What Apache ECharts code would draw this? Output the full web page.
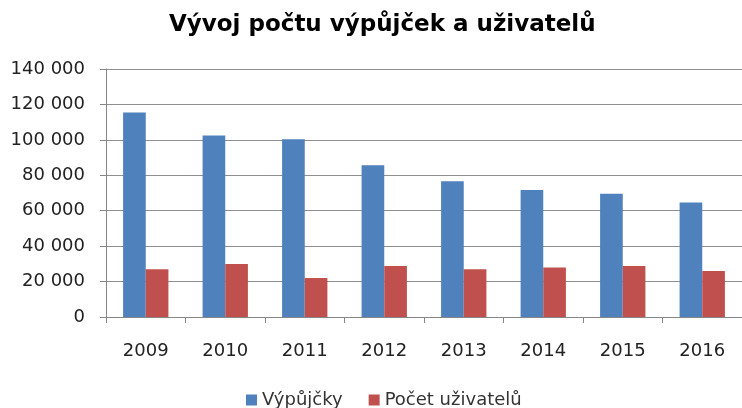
<!DOCTYPE html>
<html>
<head>
<meta charset="utf-8">
<script src="https://cdn.jsdelivr.net/npm/echarts@6/dist/echarts.min.js"></script>
<style>
  html, body { margin: 0; padding: 0; background: #fff; }
  #chart { width: 742px; height: 408px; }
</style>
</head>
<body>
<div id="chart"></div>
<script>
const years = ['2009', '2010', '2011', '2012', '2013', '2014', '2015', '2016']
const vypujcky = [115400, 102400, 100300, 85600, 76600, 71700, 69600, 64600]
const uzivatele = [26900, 29900, 22000, 28800, 26900, 27900, 28800, 26000]
const seriesNames = ['Výpůjčky', 'Počet uživatelů']

const font = 'DejaVu Sans'
const fmt = v => String(v).replace(/\B(?=(\d{3})+(?!\d))/g, ' ')

const chart = echarts.init(document.getElementById('chart'))
chart.setOption({
  animation: false,
  title: {
    text: 'Vývoj počtu výpůjček a uživatelů',
    left: 164,
    top: 9,
    textStyle: { fontFamily: font, fontSize: 23, fontWeight: 'bold', color: '#000' }
  },
  legend: {
    data: seriesNames,
    left: 241,
    top: 385,
    itemWidth: 11,
    itemHeight: 11,
    itemGap: 26,
    icon: 'rect',
    textStyle: { fontFamily: font, fontSize: 18, color: '#333', lineHeight: 20 }
  },
  grid: { left: 106, right: -7, top: 69, bottom: 91, containLabel: false },
  xAxis: {
    type: 'category',
    data: years,
    axisLine: { lineStyle: { color: '#868686' } },
    axisTick: { show: true, length: 6, lineStyle: { color: '#868686' } },
    axisLabel: { fontFamily: font, fontSize: 18, color: '#222', margin: 25 }
  },
  yAxis: {
    type: 'value',
    min: 0,
    max: 140000,
    interval: 20000,
    axisLine: { show: true, lineStyle: { color: '#868686' } },
    axisTick: { show: true, length: 6, lineStyle: { color: '#868686' } },
    splitLine: { lineStyle: { color: '#8f8f8f' } },
    axisLabel: { fontFamily: font, fontSize: 18, color: '#222', margin: 21, formatter: fmt }
  },
  series: [
    {
      name: seriesNames[0],
      type: 'bar',
      data: vypujcky,
      barGap: '0%',
      barCategoryGap: '43%',
      itemStyle: { color: '#4F81BD' }
    },
    {
      name: seriesNames[1],
      type: 'bar',
      data: uzivatele,
      itemStyle: { color: '#C0504D' }
    }
  ]
})
</script>
</body>
</html>
